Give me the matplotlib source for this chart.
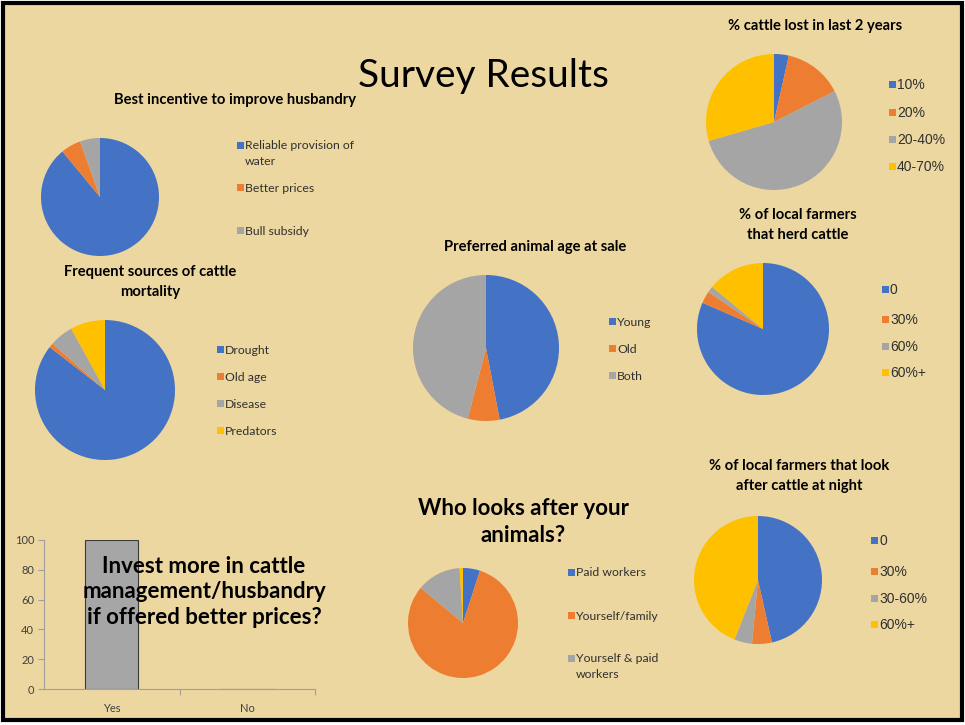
import matplotlib
matplotlib.use("Agg")
import matplotlib.pyplot as plt
from matplotlib.patches import Rectangle

W, H = 965, 725

BLUE, ORANGE, GRAY, YELLOW = "#4472C4", "#ED7D31", "#A5A5A5", "#FFC000"
PIE_COLORS = [BLUE, ORANGE, GRAY, YELLOW]

# data
incentive_labels = ["Reliable provision of\nwater", "Better prices", "Bull subsidy"]
incentive_values = [89, 5.5, 5.5]

lost_labels = ["10%", "20%", "20-40%", "40-70%"]
lost_values = [3.5, 14, 53, 29.5]

herd_labels = ["0", "30%", "60%", "60%+"]
herd_values = [81.5, 3, 1.5, 14]

mortality_labels = ["Drought", "Old age", "Disease", "Predators"]
mortality_values = [85.5, 1, 5.5, 8]

age_labels = ["Young", "Old", "Both"]
age_values = [47, 7, 46]

carer_labels = ["Paid workers", "Yourself/family", "Yourself & paid\nworkers"]
carer_values = [5, 81, 13, 1]

night_labels = ["0", "30%", "30-60%", "60%+"]
night_values = [46.5, 5, 4.5, 44]

invest_cats = ["Yes", "No"]
invest_values = [100, 0]
invest_ticks = [0, 20, 40, 60, 80, 100]

FONT = "Lato"
NUMFONT = "Liberation Sans"

fig = plt.figure(figsize=(W / 100, H / 100), dpi=100)
fig.patch.set_facecolor("white")


def px_axes(x, y, w, h, **kw):
    """axes from pixel box, top-left origin"""
    return fig.add_axes([x / W, 1 - (y + h) / H, w / W, h / H], **kw)


# background slide
bg = px_axes(0, 0, W, H)
bg.set_xlim(0, W)
bg.set_ylim(H, 0)
bg.axis("off")
bg.add_patch(Rectangle((3, 3), 959, 717, facecolor="#ECD7A0", edgecolor="black", linewidth=3))


def pie(cx, cy, r, values, colors):
    ax = px_axes(cx - r, cy - r, 2 * r, 2 * r)
    ax.pie(values, colors=colors, startangle=90, counterclock=False,
           radius=1, wedgeprops=dict(linewidth=0))
    ax.set_xlim(-1, 1)
    ax.set_ylim(-1, 1)
    ax.axis("off")
    return ax


pie(100, 197, 59, incentive_values, PIE_COLORS)
pie(774, 122, 68, lost_values, PIE_COLORS)
pie(763, 329, 66, herd_values, PIE_COLORS)
pie(105, 390, 70, mortality_values, PIE_COLORS)
pie(486, 348, 73, age_values, PIE_COLORS)
pie(463, 623, 55, carer_values, PIE_COLORS)
pie(758, 580, 64, night_values, PIE_COLORS)

# bar chart
bax = px_axes(44, 540, 271, 149)
x = list(range(len(invest_cats)))
bax.bar(x, invest_values, width=0.39, color="#A6A6A6", edgecolor="#3A3A3A", linewidth=0.8)
bax.set_xlim(-0.5, 1.5)
bax.set_ylim(0, 100)
bax.set_facecolor("none")
for s in ["top", "right"]:
    bax.spines[s].set_visible(False)
for s in ["left", "bottom"]:
    bax.spines[s].set_color("#A0A0A0")
bax.set_yticks(invest_ticks)
bax.set_yticklabels([str(t) for t in invest_ticks], fontsize=8, color="#404040", family=FONT)
bax.tick_params(axis="y", length=4, color="#A0A0A0", pad=3)
bax.set_xticks([0.5, 1.5])
bax.set_xticklabels([])
bax.tick_params(axis="x", length=4, color="#A0A0A0")
bax.set_xticks(x, minor=True)
bax.set_xticklabels(invest_cats, minor=True, fontsize=8, color="#404040", family=FONT)
bax.tick_params(axis="x", which="minor", length=0, pad=10)

# text overlay
ov = px_axes(0, 0, W, H)
ov.set_xlim(0, W)
ov.set_ylim(H, 0)
ov.axis("off")
ov.patch.set_alpha(0)


def legend(x, ys, labels, font=FONT, size=8.8):
    for y, lab, c in zip(ys, labels, PIE_COLORS):
        ov.add_patch(Rectangle((x - 7, y - 4), 7, 7, facecolor=c, edgecolor="none"))
        ov.text(x + 1, y - 6 if "\n" in lab else y, lab, fontsize=size, family=font,
                va="top" if "\n" in lab else "center", ha="left", color="#303030",
                linespacing=1.5)


def title(x, y, s, size=10.6, ls=1.5):
    ov.text(x, y, s, fontsize=size, family=FONT, weight="bold", ha="center",
            va="center", color="black", linespacing=ls)


ov.text(483, 76, "Survey Results", fontsize=28, family=FONT, weight="normal",
        ha="center", va="center", color="black")

title(235, 100, "Best incentive to improve husbandry")
legend(244, [146, 188, 231], incentive_labels)

title(815, 26, "% cattle lost in last 2 years")
legend(896, [85, 113, 140, 167], lost_labels, font=NUMFONT, size=10)

title(798, 225, "% of local farmers\nthat herd cattle")
legend(889, [290, 320, 347, 373], herd_labels, font=NUMFONT, size=10)

title(150, 282, "Frequent sources of cattle\nmortality")
legend(224, [350, 377, 404, 431], mortality_labels)

title(535, 247, "Preferred animal age at sale")
legend(616, [322, 349, 376], age_labels)

title(523, 522, "Who looks after your\nanimals?", size=16, ls=1.32)
legend(575, [573, 616, 659], carer_labels)

title(799, 476, "% of local farmers that look\nafter cattle at night")
legend(878, [541, 572, 599, 625], night_labels, font=NUMFONT, size=10)

title(204, 592, "Invest more in cattle\nmanagement/husbandry\nif offered better prices?", size=16, ls=1.24)

fig.savefig("out.png", dpi=100)
